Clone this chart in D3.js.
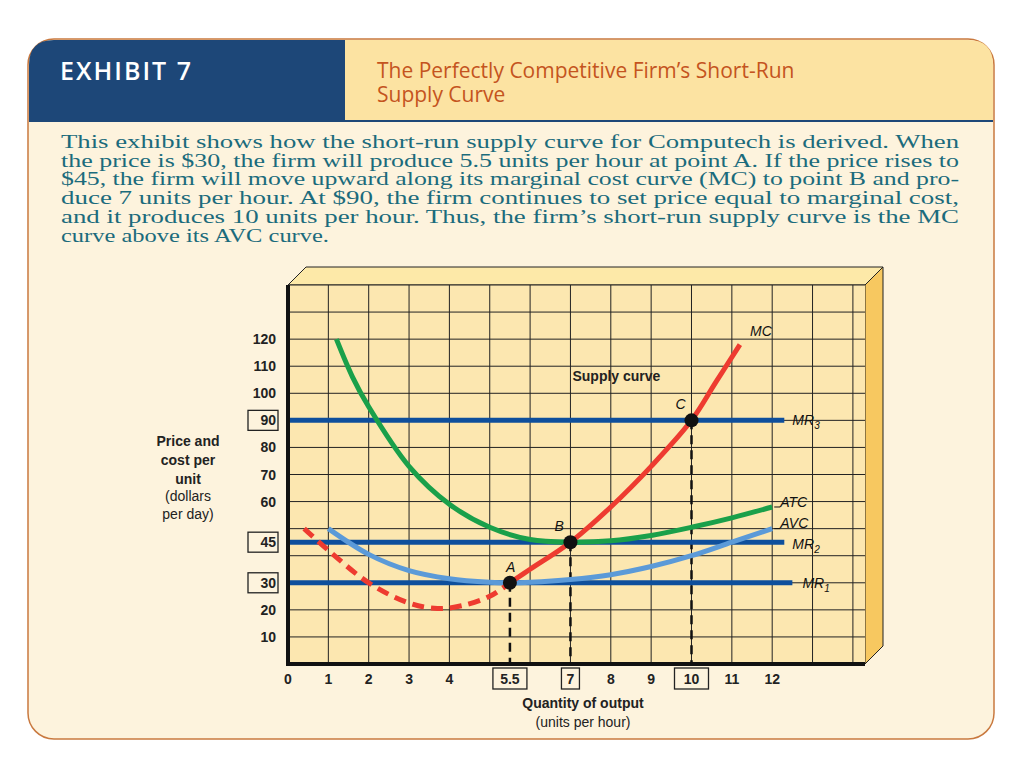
<!DOCTYPE html>
<html><head><meta charset="utf-8">
<script src="https://cdn.jsdelivr.net/npm/d3@7"></script>
<style>body{margin:0;background:#fff}</style>
</head><body><div id="chart"></div>
<script>
// data
const xTicks = [0, 1, 2, 3, 4, 5.5, 7, 8, 9, 10, 11, 12];
const xBoxed = [5.5, 7, 10];
const yTicks = [10, 20, 30, 45, 60, 70, 80, 90, 100, 110, 120];
const yBoxed = [30, 45, 90];
const mcDashed = [[0.4,50],[1,42],[2,30],[3,22.5],[3.7,20.5],[4.3,21.5],[5,25],[5.5,30]];
const mcSolid = [[5.5,30],[6,35],[7,45],[8,58],[9,73],[10,90],[10.6,104],[11.2,118]];
const atc = [[1.2,120],[1.6,106],[2,95],[3,73],[4,59],[5,50.5],[6,46],[7,45],[8,45.5],[9,47.5],[10,50.5],[11,54],[12,58]];
const avc = [[1,50],[2,40.5],[3,34.5],[4,31.5],[5,30.2],[5.5,30],[6,30.2],[7,31.2],[8,33],[9,36],[10,40],[11,45],[12,50]];
const mrLevels = [{p:30, lab:'1'}, {p:45, lab:'2'}, {p:90, lab:'3'}];
const points = [{q:5.5,p:30,n:'A'},{q:7,p:45,n:'B'},{q:10,p:90,n:'C'}];
const bodyLines = [
  'This exhibit shows how the short-run supply curve for Computech is derived. When',
  'the price is $30, the firm will produce 5.5 units per hour at point A. If the price rises to',
  '$45, the firm will move upward along its marginal cost curve (MC) to point B and pro-',
  'duce 7 units per hour. At $90, the firm continues to set price equal to marginal cost,',
  'and it produces 10 units per hour. Thus, the firm\u2019s short-run supply curve is the MC',
  'curve above its AVC curve.'
];

const svg = d3.select('#chart').append('svg').attr('width', 1024).attr('height', 768);

// frame
svg.append('rect').attr('x', 28).attr('y', 39).attr('width', 966).attr('height', 700)
  .attr('rx', 26).attr('fill', '#fdf3dd').attr('stroke', '#c9793f').attr('stroke-width', 1.5);
svg.append('path').attr('d', 'M345,40 H968 Q993,40 993,65 V120 H345 Z').attr('fill', '#fce3a2');
svg.append('path').attr('d', 'M345,40 H54 Q29,40 29,65 V120 H345 Z').attr('fill', '#1d4778');
svg.append('line').attr('x1', 29).attr('x2', 993).attr('y1', 121).attr('y2', 121).attr('stroke', '#1d4778').attr('stroke-width', 2);
svg.append('text').attr('x', 60).attr('y', 80).attr('fill', '#fff').attr('font-family', 'Open Sans, sans-serif')
  .attr('font-size', 25).attr('font-weight', 600).attr('letter-spacing', 2).text('EXHIBIT  7');
svg.append('text').attr('x', 377).attr('y', 78).attr('fill', '#c4541e').attr('font-family', 'Open Sans, sans-serif')
  .attr('font-size', 21).text('The Perfectly Competitive Firm\u2019s Short-Run');
svg.append('text').attr('x', 377).attr('y', 102).attr('fill', '#c4541e').attr('font-family', 'Open Sans, sans-serif')
  .attr('font-size', 21).text('Supply Curve');
svg.append('g').selectAll('text').data(bodyLines).enter().append('text')
  .attr('x', 61).attr('y', (d, i) => 148 + i * 18.7)
  .attr('fill', '#1b6b7c').attr('font-family', 'Liberation Serif, serif').attr('font-size', 18.5)
  .attr('textLength', (d, i) => i < 5 ? 898 : 268).attr('lengthAdjust', 'spacingAndGlyphs')
  .text(d => d);

// chart
const x = d3.scaleLinear().domain([0, 14.3]).range([288, 865]);
const y = d3.scaleLinear().domain([0, 140]).range([664, 285]);
const d = 18;
svg.append('path').attr('d', `M288,285 L${288+d},${285-d} H${865+d} L865,285 Z`).attr('fill', '#fde9a8').attr('stroke', '#222').attr('stroke-width', 1);
svg.append('path').attr('d', `M865,285 L${865+d},${285-d} V${664-d} L865,664 Z`).attr('fill', '#f7c860').attr('stroke', '#222').attr('stroke-width', 1);
svg.append('rect').attr('x', 288).attr('y', 285).attr('width', 577).attr('height', 379).attr('fill', '#fce7b0');
const grid = svg.append('g').attr('stroke', '#222').attr('stroke-width', 1);
grid.selectAll('.v').data(d3.range(1, 15)).enter().append('line')
  .attr('x1', v => x(v)).attr('x2', v => x(v)).attr('y1', 285).attr('y2', 664);
grid.selectAll('.h').data(d3.range(10, 141, 10)).enter().append('line')
  .attr('y1', v => y(v)).attr('y2', v => y(v)).attr('x1', 288).attr('x2', 865);
svg.append('line').attr('x1', 288).attr('x2', 288).attr('y1', 285).attr('y2', 666).attr('stroke', '#111').attr('stroke-width', 4);
svg.append('line').attr('x1', 286).attr('x2', 865).attr('y1', 664).attr('y2', 664).attr('stroke', '#111').attr('stroke-width', 4);

// dashed drop lines
svg.append('g').selectAll('line').data(points).enter().append('line')
  .attr('x1', p => x(p.q)).attr('x2', p => x(p.q)).attr('y1', p => y(p.p)).attr('y2', 664)
  .attr('stroke', '#111').attr('stroke-width', 2.5).attr('stroke-dasharray', '9,6');

// MR lines
svg.append('g').selectAll('line').data(mrLevels).enter().append('line')
  .attr('x1', 290).attr('x2', p => x(p.p === 30 ? 12.5 : 12.3)).attr('y1', p => y(p.p)).attr('y2', p => y(p.p))
  .attr('stroke', '#0e4f9c').attr('stroke-width', 5);

const line = d3.line().x(p => x(p[0])).y(p => y(p[1])).curve(d3.curveCatmullRom);
svg.append('path').attr('d', line(avc)).attr('fill', 'none').attr('stroke', '#5b9ad8').attr('stroke-width', 5);
svg.append('path').attr('d', line(atc)).attr('fill', 'none').attr('stroke', '#1aa04a').attr('stroke-width', 5);
svg.append('path').attr('d', line(mcDashed)).attr('fill', 'none').attr('stroke', '#ee3b30').attr('stroke-width', 5).attr('stroke-dasharray', '12,7');
svg.append('path').attr('d', line(mcSolid)).attr('fill', 'none').attr('stroke', '#ee3b30').attr('stroke-width', 5);

svg.append('g').selectAll('circle').data(points).enter().append('circle')
  .attr('cx', p => x(p.q)).attr('cy', p => y(p.p)).attr('r', 7).attr('fill', '#111');
const lab = svg.append('g').attr('font-family', 'Liberation Sans, Arial, sans-serif').attr('font-style', 'italic').attr('font-size', 14).attr('fill', '#111');
lab.selectAll('.pt').data(points).enter().append('text')
  .attr('x', p => x(p.q) - (p.n === 'A' ? 4 : 16)).attr('y', p => y(p.p) - 11).text(p => p.n);

// curve labels with leader lines
const tags = [
  {t:'MC', q:11.45, p:123},
  {t:'ATC', q:12.2, p:60},
  {t:'AVC', q:12.2, p:52}
];
lab.selectAll('.tg').data(tags).enter().append('text')
  .attr('x', t => x(t.q)).attr('y', t => y(t.p) + 5).text(t => t.t);
svg.append('line').attr('x1', x(12.05)).attr('x2', x(12.2)).attr('y1', y(58)).attr('y2', y(58)).attr('stroke', '#111');
svg.append('line').attr('x1', x(12.05)).attr('x2', x(12.2)).attr('y1', y(50)).attr('y2', y(50)).attr('stroke', '#111');
const mrT = lab.selectAll('.mr').data(mrLevels).enter().append('text')
  .attr('x', p => x(p.p === 30 ? 12.75 : 12.5)).attr('y', p => y(p.p) + (p.p === 45 ? 7 : 5));
mrT.append('tspan').text('MR');
mrT.append('tspan').attr('font-size', 10).attr('dy', 4).text(p => p.lab);
svg.append('text').attr('x', x(7.05)).attr('y', y(104.5)).attr('font-family', 'Liberation Sans, Arial, sans-serif')
  .attr('font-weight', 'bold').attr('font-size', 14).attr('fill', '#222').text('Supply curve');

// axis tick labels
const tickFont = 'Liberation Sans, Arial, sans-serif';
const xl = svg.append('g').attr('font-family', tickFont).attr('font-weight', 'bold').attr('font-size', 14).attr('fill', '#222');
xl.selectAll('text').data(xTicks).enter().append('text')
  .attr('x', v => x(v)).attr('y', 684).attr('text-anchor', 'middle').text(v => v);
xl.selectAll('rect').data(xBoxed).enter().append('rect')
  .attr('x', v => x(v) - (v === 7 ? 9 : 17)).attr('y', 668).attr('width', v => v === 7 ? 18 : 34).attr('height', 21)
  .attr('fill', 'none').attr('stroke', '#222').attr('stroke-width', 1.3);
const yl = svg.append('g').attr('font-family', tickFont).attr('font-weight', 'bold').attr('font-size', 14).attr('fill', '#222');
yl.selectAll('text').data(yTicks).enter().append('text')
  .attr('x', 276).attr('y', v => y(v) + 5).attr('text-anchor', 'end').text(v => v);
yl.selectAll('rect').data(yBoxed).enter().append('rect')
  .attr('x', 248).attr('y', v => y(v) - 10).attr('width', 30).attr('height', 20)
  .attr('fill', 'none').attr('stroke', '#222').attr('stroke-width', 1.3);

const at = svg.append('g').attr('font-family', tickFont).attr('font-size', 14).attr('fill', '#222').attr('text-anchor', 'middle');
at.append('text').attr('x', 583).attr('y', 708).attr('font-weight', 'bold').text('Quantity of output');
at.append('text').attr('x', 583).attr('y', 727).text('(units per hour)');
[['Price and', 1, 446], ['cost per', 1, 465], ['unit', 1, 484], ['(dollars', 0, 501], ['per day)', 0, 519]].forEach(r => {
  at.append('text').attr('x', 188).attr('y', r[2]).attr('font-weight', r[1] ? 'bold' : 'normal').text(r[0]);
});
</script></body></html>
